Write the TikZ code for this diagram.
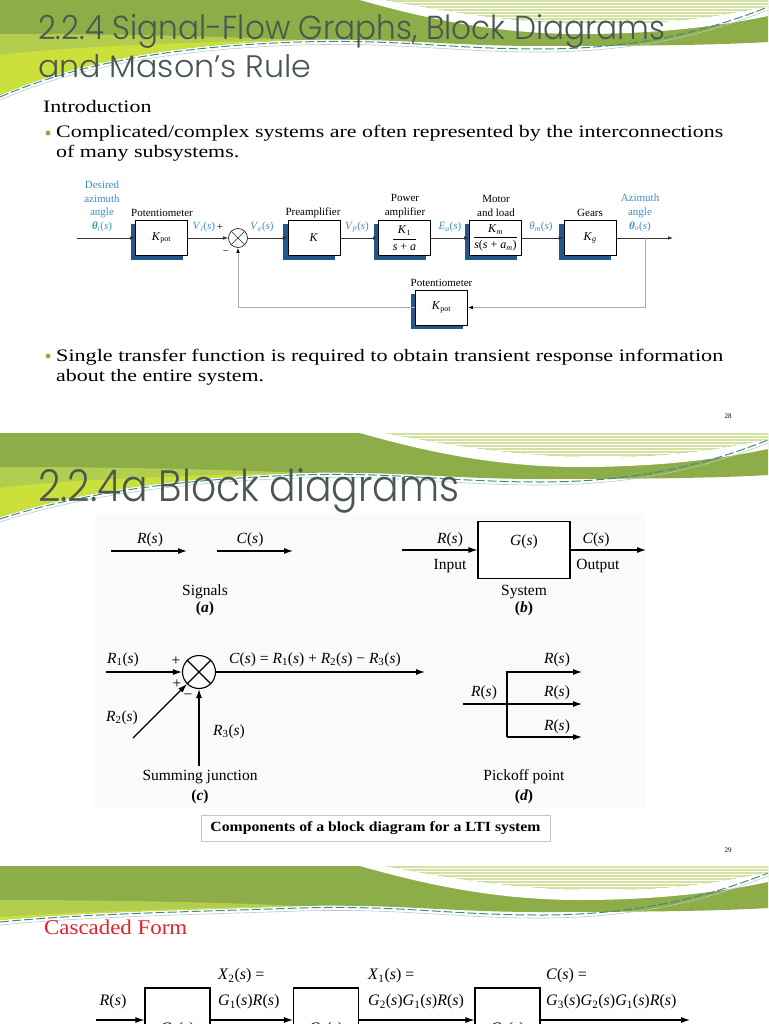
\documentclass[tikz,border=0pt]{standalone}
\usepackage{fontspec}
\setmainfont{Liberation Serif}
\newfontfamily\titlefont{Poppins Light}
\usetikzlibrary{arrows.meta,shadows,calc}
\definecolor{hdrolive}{HTML}{8CAD48}
\definecolor{hdrlight}{HTML}{B3CE4E}
\definecolor{hdryellow}{HTML}{CCE03C}
\definecolor{hdrpale}{HTML}{D3E2A0}
\definecolor{hdrteal}{HTML}{3E8C8A}
\definecolor{titlegray}{HTML}{4A5750}
\definecolor{sigblue}{HTML}{3F8EC4}
\definecolor{shadowblue}{HTML}{22598A}
\definecolor{bulletgreen}{HTML}{8DB04C}
\definecolor{cascred}{HTML}{E3222B}
\definecolor{panelgray}{HTML}{FAFAFA}
\newcommand\iv[1]{\textit{#1}}
\newcommand\sub[1]{\textsubscript{#1}}
\newcommand\blkfrac[2]{$\displaystyle{\hbox{#1}\over\hbox{#2}}$}
\newlength\natw
% #1 = y of the wave at the left edge, #2 = its first control y
\newcommand\slidehdr[2]{%
  \fill[hdrolive] (0,0) -- (768,0) -- (768,42) .. controls (720,45) and (640,46) .. (540,46) .. controls (450,46) and (400,38) .. (300,40) .. controls (180,44) and (80,#2) .. (0,#1) -- cycle;
  \fill[hdrlight] (0,#1) .. controls (80,#2) and (180,44) .. (300,40) .. controls (220,36) and (100,34) .. (0,34) -- cycle;
  \fill[hdryellow] (0,#1) .. controls (80,#2) and (180,44) .. (300,40) .. controls (200,42) and (70,46) .. (0,{min(55,#1-3)}) -- cycle;
  \fill[white] (360,0) -- (385,0) .. controls (450,12) and (520,24) .. (600,24) .. controls (680,24) and (730,14) .. (768,6) -- (768,16) .. controls (720,26) and (660,34) .. (580,34) .. controls (500,34) and (430,20) .. (360,0) -- cycle;
  \begin{scope}
    \clip (385,0) -- (768,0) -- (768,6) .. controls (730,14) and (680,24) .. (600,24) .. controls (520,24) and (450,12) .. (385,0) -- cycle;
    \fill[hdrpale] (380,0) rectangle (768,26);
    \foreach \yy in {2.5,5.5,...,23.5} \draw[white,line width=1pt] (380,\yy) -- (768,\yy);
  \end{scope}
  \draw[hdrteal,line width=1pt,dash pattern=on 9pt off 3pt] (0,#1+2) .. controls (80,#2+2) and (180,46) .. (300,42) .. controls (400,39) and (450,49) .. (540,49) .. controls (640,49) and (710,30) .. (768,7);
  \draw[gray!45,line width=0.6pt] (0,#1+5) .. controls (80,#2+5) and (180,49) .. (300,45) .. controls (400,42) and (450,52) .. (540,52) .. controls (640,52) and (710,33) .. (768,10);
}
\begin{document}
\settowidth{\natw}{\fontsize{17.5}{20}\selectfont Complicated/complex systems are often represented by the interconnections}%
\pgfmathsetmacro\bsx{667/\natw}%
\begin{tikzpicture}[x=1pt,y=-1pt,
  blk/.style={draw=black, fill=white, line width=0.7pt, minimum width=52pt, minimum height=35pt, inner sep=0pt, font=\fontsize{12}{13}\selectfont, drop shadow={shadow xshift=-5pt, shadow yshift=-4pt, fill=shadowblue, opacity=1}},
  sumc/.style={circle, draw=black!85, line width=0.7pt, minimum size=19pt, inner sep=0pt},
  ar/.style={-{Latex[length=5pt,width=3.6pt]}, line width=0.7pt, draw=black!80},
  fb/.style={draw=gray!65, line width=0.8pt, -{Latex[length=5pt,width=3.6pt,color=black]}},
  lbl/.style={inner sep=0pt, font=\fontsize{11}{13.7}\selectfont},
  sig/.style={lbl, text=sigblue},
  body/.style={anchor=base west, inner sep=0pt, font=\fontsize{17.5}{20}\selectfont},
  bul/.style={circle, fill=bulletgreen, inner sep=0pt, minimum size=5pt},
  ttl/.style={anchor=base west, inner sep=0pt, text=titlegray},
  t2/.style={inner sep=0pt, font=\fontsize{15.5}{17}\selectfont},
  ar2/.style={-{Latex[length=9pt,width=6pt]}, line width=1.1pt},
  blk2/.style={draw=black, line width=1.1pt, fill=white, minimum width=92pt, minimum height=57pt, inner sep=0pt},
  sum2/.style={circle, draw=black, line width=1.1pt, minimum size=33pt, inner sep=0pt},
  blk3/.style={draw=black, line width=1.1pt, fill=white, minimum width=65pt, minimum height=84pt, inner sep=0pt, font=\fontsize{16}{18}\selectfont},
  t3/.style={inner sep=0pt, font=\fontsize{16}{18}\selectfont},
  pnum/.style={inner sep=0pt, font=\fontsize{7}{8}\selectfont}
]
\path[use as bounding box] (0,0) rectangle (768,1024);
\clip (0,0) rectangle (768,1024);
\fill[white] (0,0) rectangle (768,1024);
\begin{scope}\slidehdr{95}{60}\end{scope}
\begin{scope}[shift={(0,433)}]\slidehdr{84}{58}\end{scope}
\begin{scope}[shift={(0,866)}]\slidehdr{54}{46}\end{scope}

% ---------- slide 1 ----------
\node[ttl] (title1) at (38,40) {\titlefont\resizebox{627pt}{25pt}{2.2.4 Signal-Flow Graphs, Block Diagrams}};
\node[ttl] (title1b) at (38,78) {\titlefont\resizebox{273pt}{23pt}{and Mason’s Rule}};

\node[body] (intro) at (43,113) {\scalebox{\bsx}[1]{Introduction}};
\node[bul] (b1) at (48,133) {};
\node[body] (l1) at (56,138) {\resizebox{667pt}{\height}{Complicated/complex systems are often represented by the interconnections}};
\node[body] (l2) at (56,158) {\scalebox{\bsx}[1]{of many subsystems.}};
\node[bul] (b2) at (48,356) {};
\node[body] (l3) at (56,361) {\resizebox{667pt}{\height}{Single transfer function is required to obtain transient response information}};
\node[body] (l4) at (56,381) {\scalebox{\bsx}[1]{about the entire system.}};
\node[pnum] (pn28) at (728,416) {28};

% top block diagram
\node[blk] (kpot) at (161.5,238) {\iv{K}\sub{pot}};
\node[blk] (kamp) at (314,238) {\iv{K}};
\node[blk] (pamp) at (404.5,238) {\blkfrac{\iv{K}\sub{1}}{\iv{s} + \iv{a}}};
\node[blk] (mot) at (495.5,238) {\blkfrac{\iv{K}\sub{\iv{m}}}{\iv{s}(\iv{s} + \iv{a}\sub{\iv{m}})}};
\node[blk] (gear) at (590,238) {\iv{K}\sub{\iv{g}}};
\node[blk] (kfb) at (441.5,307.5) {\iv{K}\sub{pot}};
\node[sumc] (sum1) at (238,238) {};
\draw[black!85, line width=0.7pt] (sum1.north west) -- (sum1.south east) (sum1.north east) -- (sum1.south west);
\coordinate (in1) at (77,238);
\coordinate (out1) at (673,238);
\coordinate (tap1) at (645,238);
\draw[ar] (in1) -- (kpot.west);
\draw[ar] (kpot.east) -- (sum1.west);
\draw[ar] (sum1.east) -- (kamp.west);
\draw[ar] (kamp.east) -- (pamp.west);
\draw[ar] (pamp.east) -- (mot.west);
\draw[ar] (mot.east) -- (gear.west);
\draw[ar] (gear.east) -- (out1);
\draw[fb] (tap1) |- (kfb.east);
\draw[fb] (kfb.west) -| (sum1.south);

\node[sig, align=center] (desired) at (102,206.5) {Desired\\azimuth\\angle\\\textbf{\iv{θ}}\sub{\iv{i}}(\iv{s})};
\node[lbl] (potl) at (162,213) {Potentiometer};
\node[lbl] (prel) at (313,213) {Preamplifier};
\node[lbl, align=center] (pwl) at (405,206) {Power\\amplifier};
\node[lbl, align=center] (mtl) at (496,206) {Motor\\and load};
\node[lbl] (grl) at (590,213) {Gears};
\node[sig, align=center] (azl) at (640,213) {Azimuth\\angle\\\textbf{\iv{θ}}\sub{\iv{o}}(\iv{s})};
\node[lbl] (pfl) at (441.5,283) {Potentiometer};
\node[sig] (vil) at (204,227) {\iv{V}\sub{\iv{i}}(\iv{s})};
\node[lbl] (plus1) at (220,227) {+};
\node[sig] (vel) at (262,227) {\iv{V}\sub{\iv{e}}(\iv{s})};
\node[sig] (vpl) at (357,227) {\iv{V}\sub{\iv{p}}(\iv{s})};
\node[sig] (eal) at (450,227) {\iv{E}\sub{\iv{a}}(\iv{s})};
\node[sig] (tml) at (541,227) {\iv{θ}\sub{\iv{m}}(\iv{s})};
\node[lbl] (minus1) at (226,253) {−};

% ---------- slide 2 ----------
\node[ttl] (title2) at (38,501) {\titlefont\resizebox{421pt}{33pt}{2.2.4a Block diagrams}};
\fill[panelgray] (95,513) rectangle (645,808);

% (a)
\coordinate (ra1) at (111,551);
\coordinate (ra2) at (187,551);
\coordinate (ca1) at (217,551);
\coordinate (ca2) at (293,551);
\draw[ar2] (ra1) -- (ra2);
\draw[ar2] (ca1) -- (ca2);
\node[t2] (ral) at (150,540) {\iv{R}(\iv{s})};
\node[t2] (cal) at (250,540) {\iv{C}(\iv{s})};
\node[t2] (sigl) at (205,592) {Signals};
\node[t2] (al) at (205,609) {\textbf{(\iv{a})}};

% (b)
\node[blk2] (gs) at (524,550) {};
\node[t2] (gsl) at (524,542) {\iv{G}(\iv{s})};
\coordinate (bin) at (402,550);
\coordinate (bout) at (646,550);
\draw[ar2] (bin) -- (gs.west);
\draw[ar2] (gs.east) -- (bout);
\node[t2] (rbl) at (450,540) {\iv{R}(\iv{s})};
\node[t2] (inl) at (450,566) {Input};
\node[t2] (cbl) at (596,540) {\iv{C}(\iv{s})};
\node[t2] (outl) at (598,566) {Output};
\node[t2] (sysl) at (524,592) {System};
\node[t2] (bl) at (524,609) {\textbf{(\iv{b})}};

% (c)
\node[sum2] (sj) at (199,672) {};
\draw[line width=1.1pt] (sj.north west) -- (sj.south east) (sj.north east) -- (sj.south west);
\coordinate (r1in) at (106,672);
\coordinate (r2in) at (133,738);
\coordinate (r3in) at (199,766);
\coordinate (cout) at (425,672);
\draw[ar2] (r1in) -- (sj.west);
\draw[ar2] (r2in) -- (sj.south west);
\draw[ar2] (r3in) -- (sj.south);
\draw[ar2] (sj.east) -- (cout);
\node[t2] (r1l) at (123,660) {\iv{R}\sub{1}(\iv{s})};
\node[t2] (r2l) at (122,718) {\iv{R}\sub{2}(\iv{s})};
\node[t2] (r3l) at (229,732) {\iv{R}\sub{3}(\iv{s})};
\node[t2] (p1) at (176,661) {+};
\node[t2] (p2) at (177,684) {+};
\node[t2] (m1) at (188,697) {−};
\node[t2, anchor=west] (ceq) at (229,660) {\iv{C}(\iv{s}) = \iv{R}\sub{1}(\iv{s}) + \iv{R}\sub{2}(\iv{s}) − \iv{R}\sub{3}(\iv{s})};
\node[t2] (sjl) at (200,777) {Summing junction};
\node[t2] (cl) at (200,797) {\textbf{(\iv{c})}};

% (d)
\coordinate (pin) at (463,704);
\coordinate (pkt) at (507,672);
\coordinate (pkb) at (507,737);
\coordinate (po1) at (582,672);
\coordinate (po2) at (582,704);
\coordinate (po3) at (582,737);
\draw[ar2] (pin) -- (po2);
\draw[ar2] (pkb) -- (pkt) -- (po1);
\draw[ar2] (pkb) -- (po3);
\node[t2] (rdl) at (484,693) {\iv{R}(\iv{s})};
\node[t2] (rd1) at (557,660) {\iv{R}(\iv{s})};
\node[t2] (rd2) at (557,693) {\iv{R}(\iv{s})};
\node[t2] (rd3) at (557,727) {\iv{R}(\iv{s})};
\node[t2] (pkl) at (524,777) {Pickoff point};
\node[t2] (dl) at (524,797) {\textbf{(\iv{d})}};

% caption
\node[draw=gray!45, fill=white, line width=0.6pt, minimum width=349pt, minimum height=26pt, inner sep=0pt, font=\fontsize{14}{16}\selectfont\bfseries] (cap) at (375.5,828) {\resizebox{330pt}{\height}{Components of a block diagram for a LTI system}};
\node[pnum] (pn29) at (728,850) {29};

% ---------- slide 3 ----------
\node[anchor=base west, inner sep=0pt, text=cascred, font=\fontsize{21}{24}\selectfont] (casc) at (44,934) {\resizebox{143pt}{\height}{Cascaded Form}};
\node[blk3] (g1) at (177.5,1030) {\iv{G}\sub{1}(\iv{s})};
\node[blk3] (g2) at (326,1030) {\iv{G}\sub{2}(\iv{s})};
\node[blk3] (g3) at (507.5,1030) {\iv{G}\sub{3}(\iv{s})};
\coordinate (cin) at (96,1020);
\coordinate (cend) at (690,1020);
\draw[ar2] (cin) -- (cin -| g1.west);
\draw[ar2] (g1.east |- cin) -- (cin -| g2.west);
\draw[ar2] (g2.east |- cin) -- (cin -| g3.west);
\draw[ar2] (g3.east |- cin) -- (cend);
\node[t3] (rcl) at (113,1002) {\iv{R}(\iv{s})};
\node[t3, anchor=west] (x2a) at (218,976) {\iv{X}\sub{2}(\iv{s}) =};
\node[t3, anchor=west] (x2b) at (218,1002) {\iv{G}\sub{1}(\iv{s})\iv{R}(\iv{s})};
\node[t3, anchor=west] (x1a) at (368,976) {\iv{X}\sub{1}(\iv{s}) =};
\node[t3, anchor=west] (x1b) at (368,1002) {\iv{G}\sub{2}(\iv{s})\iv{G}\sub{1}(\iv{s})\iv{R}(\iv{s})};
\node[t3, anchor=west] (csa) at (546,976) {\iv{C}(\iv{s}) =};
\node[t3, anchor=west] (csb) at (546,1002) {\iv{G}\sub{3}(\iv{s})\iv{G}\sub{2}(\iv{s})\iv{G}\sub{1}(\iv{s})\iv{R}(\iv{s})};
\end{tikzpicture}
\end{document}
